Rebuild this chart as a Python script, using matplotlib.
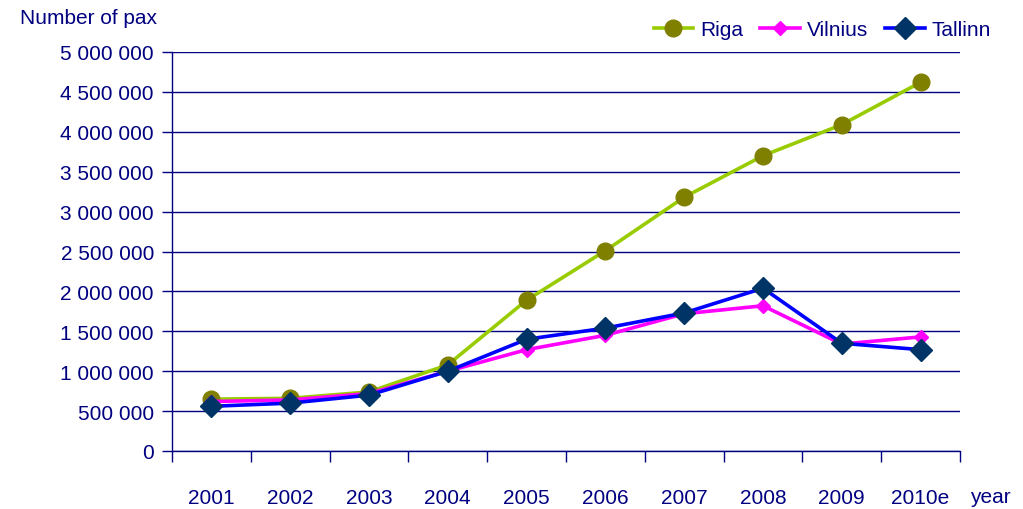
import matplotlib.pyplot as plt
import numpy as np

plt.rcParams['font.family'] = ['Liberation Sans', 'DejaVu Sans']

years = ['2001', '2002', '2003', '2004', '2005', '2006', '2007', '2008', '2009', '2010e']
riga = [650000, 660000, 740000, 1080000, 1890000, 2510000, 3180000, 3700000, 4090000, 4620000]
vilnius = [620000, 640000, 720000, 1000000, 1270000, 1450000, 1720000, 1820000, 1340000, 1430000]
tallinn = [560000, 600000, 700000, 1000000, 1400000, 1540000, 1730000, 2040000, 1350000, 1270000]

navy = '#000080'
fs = 15

fig = plt.figure(figsize=(10.23, 5.10), dpi=100)
ax = fig.add_axes([172 / 1023, 1 - 452 / 510, (960 - 172) / 1023, (452 - 53) / 510])

x = np.arange(len(years))
ax.plot(x, riga, '-o', color='#99CC00', lw=2.6, ms=12,
        mfc='#808000', mec='#808000', label='Riga', zorder=3)
ax.plot(x, vilnius, '-D', color='#FF00FF', lw=2.6, ms=7,
        mfc='#FF00FF', mec='#FF00FF', label='Vilnius', zorder=4)
ax.plot(x, tallinn, '-D', color='#0000FF', lw=2.6, ms=11,
        mfc='#003366', mec='#003366', label='Tallinn', zorder=5)

ax.set_xlim(-0.5, len(years) - 0.5)
ax.set_ylim(0, 5000000)

# ticks between categories, labels centred under points
ax.set_xticks(np.arange(len(years) + 1) - 0.5)
ax.set_xticklabels([])
ax.set_xticks(x, minor=True)
ax.set_xticklabels(years, minor=True)
ax.tick_params(axis='x', which='major', direction='out', length=8, color=navy, width=1)
ax.tick_params(axis='x', which='minor', length=0, pad=27, labelsize=fs, labelcolor=navy)

yt = np.arange(0, 5000001, 500000)
ax.set_yticks(yt)
ax.set_yticklabels([f'{v:,}'.replace(',', ' ') for v in yt])
ax.tick_params(axis='y', direction='out', length=7, color=navy, width=1,
               labelsize=fs, labelcolor=navy, pad=6)

ax.grid(axis='y', color=navy, lw=1)
ax.set_axisbelow(True)
for s in ['top', 'right']:
    ax.spines[s].set_visible(False)
for s in ['left', 'bottom']:
    ax.spines[s].set_color(navy)
    ax.spines[s].set_linewidth(1)

fig.text(20 / 1023, 1 - 18 / 510, 'Number of pax', fontsize=fs, color=navy, va='center')
fig.text(970 / 1023, 1 - 498 / 510, 'year', fontsize=fs, color=navy, va='center')

leg = ax.legend(loc='center right', bbox_to_anchor=(1010 / 1023, 1 - 31 / 510),
                bbox_transform=fig.transFigure, ncol=3, frameon=False,
                fontsize=fs, handlelength=1.9, columnspacing=0.8, handletextpad=0.35)
for t in leg.get_texts():
    t.set_color(navy)

fig.savefig('out.png', dpi=100)
